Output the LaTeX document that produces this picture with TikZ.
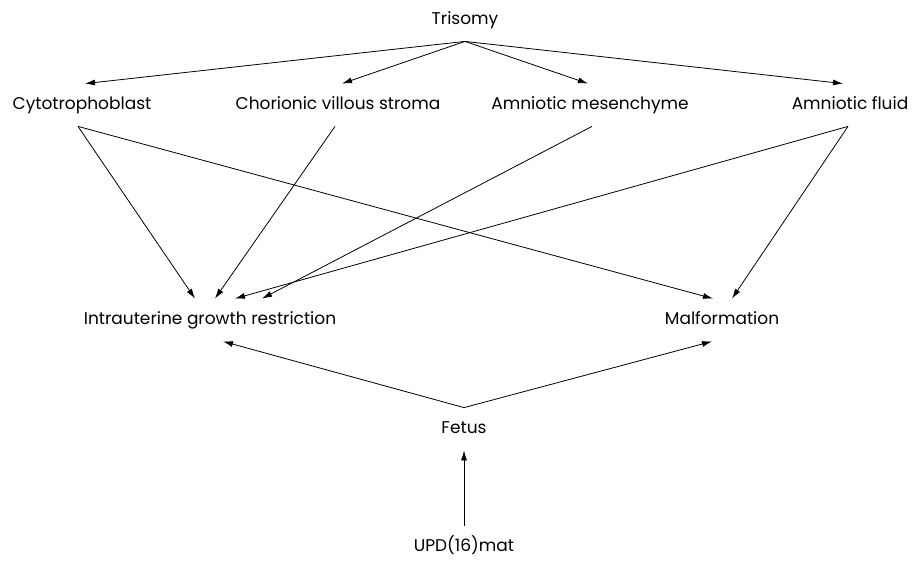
\documentclass[tikz,border=0pt]{standalone}
\usepackage{fontspec}
\setmainfont{Poppins}
\usetikzlibrary{arrows.meta}

\begin{document}
\begin{tikzpicture}[x=1pt,y=-1pt,
    lbl/.style={inner sep=0pt,minimum height=42pt,text height=13pt,text depth=4pt,
                font=\fontsize{17}{20}\selectfont},
    every path/.style={line width=0.8pt},
    >={Latex[length=10pt,width=6pt]}]
            \useasboundingbox (0,0) rectangle (912,560);
            \node[lbl] (Tri)  at (465,20)  {Trisomy};
            \node[lbl] (Cyto) at (82,105)  {Cytotrophoblast};
            \node[lbl] (CVS)  at (338,105) {Chorionic villous stroma};
            \node[lbl] (AM)   at (590,105) {Amniotic mesenchyme};
            \node[lbl] (AF)   at (850,105) {Amniotic fluid};
            \node[lbl] (IUGR) at (210,320) {Intrauterine growth restriction};
            \node[lbl] (Mal)  at (722,320) {Malformation};
            \node[lbl] (Fet)  at (464,429) {Fetus};
            \node[lbl] (UPD)  at (464,547) {UPD(16)mat};
            \draw[->] (Tri.south) -- ([xshift=3pt]Cyto.north);
            \draw[->] (Tri.south) -- ([xshift=4pt]CVS.north);
            \draw[->] (Tri.south) -- ([xshift=-2pt]AM.north);
            \draw[->] (Tri.south) -- ([xshift=-7pt]AF.north);
            \draw[->] ([xshift=-4pt]Cyto.south) -- ([xshift=-15pt]IUGR.north);
            \draw[->] ([xshift=-4pt]Cyto.south) -- ([xshift=-9pt]Mal.north);
            \draw[->] ([xshift=-3pt]CVS.south) -- ([xshift=5pt]IUGR.north);
            \draw[->] ([xshift=2pt]AM.south) -- ([xshift=52pt]IUGR.north);
            \draw[->] ([xshift=-2pt]AF.south) -- ([xshift=25pt]IUGR.north);
            \draw[->] ([xshift=-2pt]AF.south) -- ([xshift=10pt]Mal.north);
            \draw[->] (Fet.north) -- ([xshift=13pt]IUGR.south);
            \draw[->] (Fet.north) -- ([xshift=-10pt]Mal.south);
            \draw[->] (UPD.north) -- (Fet.south);
        \end{tikzpicture}
\end{document}
